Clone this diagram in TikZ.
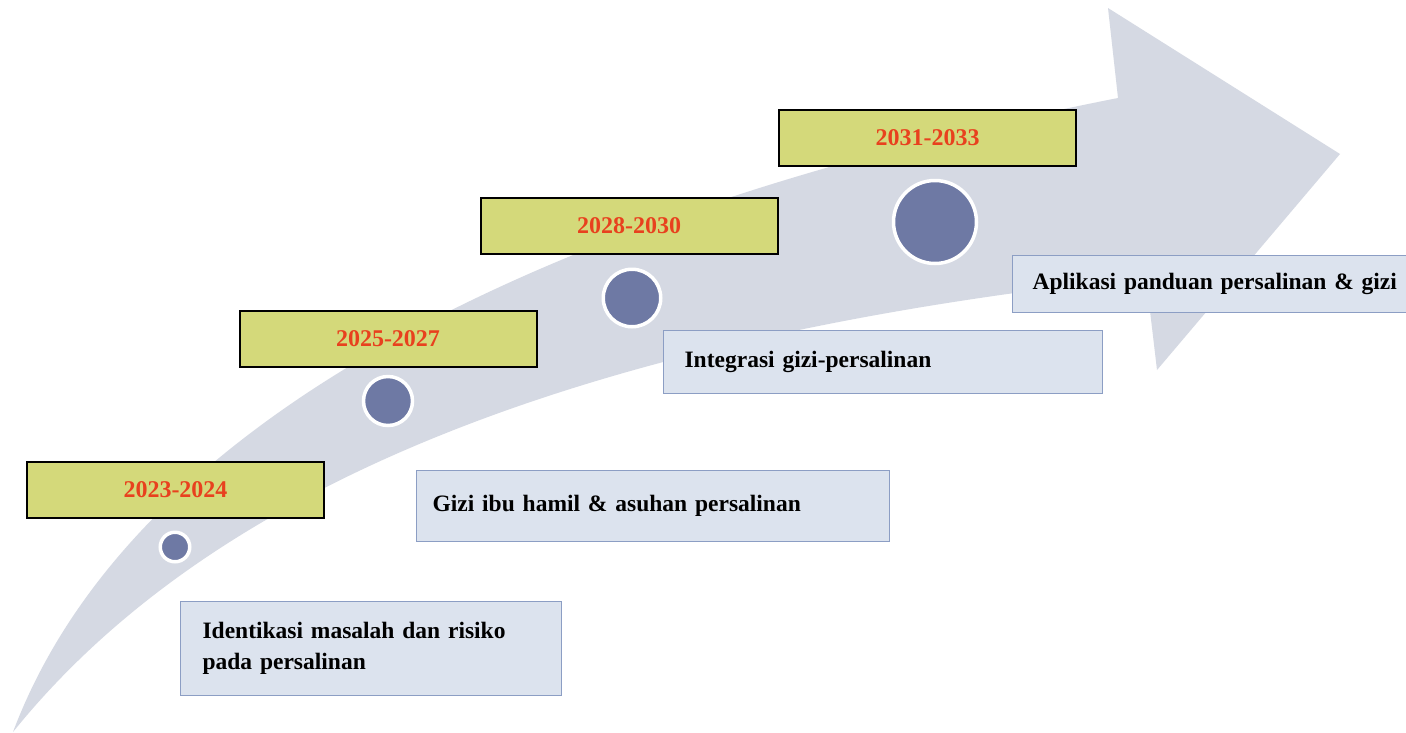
\documentclass[tikz,border=0pt]{standalone}
\usepackage{fontspec}
\setmainfont{Liberation Serif}
\definecolor{arrowc}{RGB}{213,217,227}
\definecolor{boxc}{RGB}{220,227,238}
\definecolor{boxline}{RGB}{140,158,196}
\definecolor{yellowc}{RGB}{212,217,122}
\definecolor{redc}{RGB}{232,65,30}
\definecolor{dotc}{RGB}{110,121,164}
\tikzset{
  yearbox/.style={draw=black, line width=2pt, fill=yellowc, text=redc,
    minimum width=297pt, minimum height=56pt, inner sep=0pt,
    font=\fontsize{24}{28}\selectfont\bfseries},
  textbox/.style={draw=boxline, line width=1.2pt, fill=boxc, text=black,
    anchor=north west, align=left, inner ysep=0pt,
    font=\fontsize{23.5}{31}\selectfont\bfseries},
  dot/.style={circle, fill=dotc, draw=white, line width=3.5pt, inner sep=0pt}
}
\begin{document}
\begin{tikzpicture}[x=1pt,y=-1pt]
\useasboundingbox (0,0) rectangle (1406,732);
\clip (0,0) rectangle (1406,732);
\fill[white] (0,0) rectangle (1406,732);

% curved timeline arrow
\fill[arrowc] (13,732)
  .. controls (140,395) and (600,200) .. (1118,98)
  -- (1108,8) -- (1340,154) -- (1157,370) -- (1146,277)
  .. controls (550,340) and (200,500) .. (13,732) -- cycle;

% milestones on the arrow
\node[dot, minimum size=29.5pt] (d1) at (175,547) {};
\node[dot, minimum size=49pt]   (d2) at (388,401) {};
\node[dot, minimum size=57.5pt] (d3) at (632,298) {};
\node[dot, minimum size=83pt]   (d4) at (935,222) {};

% period labels
\node[yearbox] (y1) at (175.5,490) {2023-2024};
\node[yearbox] (y2) at (388,338.5) {2025-2027};
\node[yearbox] (y3) at (629,226) {2028-2030};
\node[yearbox] (y4) at (927.5,138) {2031-2033};

% activities per period
\node[textbox, inner xsep=22pt, text width=337pt, minimum height=94pt] (t1) at (180,601)
  {Identikasi masalah dan risiko\\pada persalinan};
\node[textbox, inner xsep=16pt, text width=441pt, minimum height=71pt] (t2) at (416,470)
  {Gizi ibu hamil \& asuhan persalinan};
\node[textbox, inner xsep=21pt, text width=397pt, minimum height=63pt] (t3) at (663,330)
  {Integrasi gizi-persalinan};
\node[textbox, inner xsep=20pt, text width=380pt, minimum height=57pt] (t4) at (1012,255)
  {Aplikasi panduan persalinan \& gizi};
\end{tikzpicture}
\end{document}
